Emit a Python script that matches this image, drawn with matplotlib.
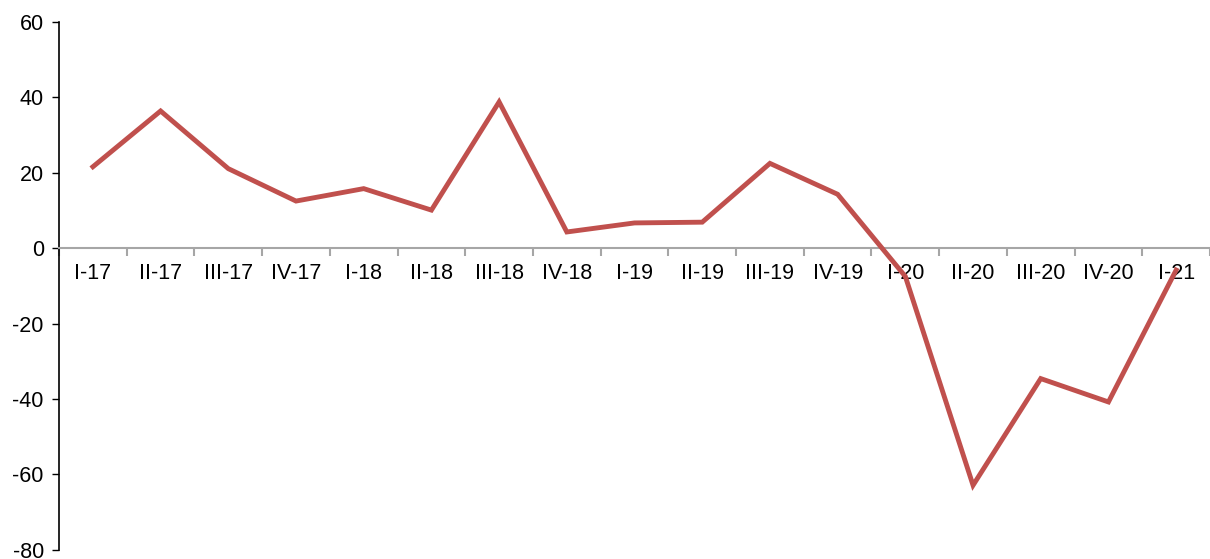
import numpy as np
import matplotlib.pyplot as plt

quarters = ['I-17', 'II-17', 'III-17', 'IV-17', 'I-18', 'II-18', 'III-18', 'IV-18',
            'I-19', 'II-19', 'III-19', 'IV-19', 'I-20', 'II-20', 'III-20', 'IV-20', 'I-21']
values = [21.6, 36.4, 21.1, 12.5, 15.8, 10.1, 38.8, 4.3,
          6.7, 6.9, 22.5, 14.3, -7.5, -62.9, -34.6, -40.8, -5.8]

plt.rcParams['font.family'] = ['Liberation Sans', 'DejaVu Sans']
plt.rcParams['axes.unicode_minus'] = False

fig = plt.figure(figsize=(12.1, 5.59), dpi=100)
ax = fig.add_axes([0.0488, 0.0166, 0.9512, 0.944])

x = np.arange(len(quarters))
ax.plot(x, values, color='#C0504D', linewidth=3.5, solid_joinstyle='miter', zorder=3)

ax.set_xlim(-0.5, len(quarters) - 0.5)
ax.set_ylim(-80, 60)
ax.set_yticks(np.arange(-80, 61, 20))
ax.tick_params(axis='y', labelsize=15.5, length=5, width=1, direction='out', pad=6)

# category axis sits on zero
ax.spines['top'].set_visible(False)
ax.spines['right'].set_visible(False)
ax.spines['bottom'].set_position(('data', 0))
ax.spines['bottom'].set_color('#A6A6A6')
ax.spines['bottom'].set_linewidth(1.5)
ax.spines['left'].set_linewidth(1.2)

ax.set_xticks(x)
ax.set_xticklabels(quarters)
ax.set_xticks(np.arange(-0.5, len(quarters), 1), minor=True)
ax.tick_params(axis='x', which='major', length=0, labelsize=15.5, pad=11)
ax.tick_params(axis='x', which='minor', length=6, width=1.5, color='#A6A6A6', direction='out')

fig.savefig('out.png', dpi=100)
